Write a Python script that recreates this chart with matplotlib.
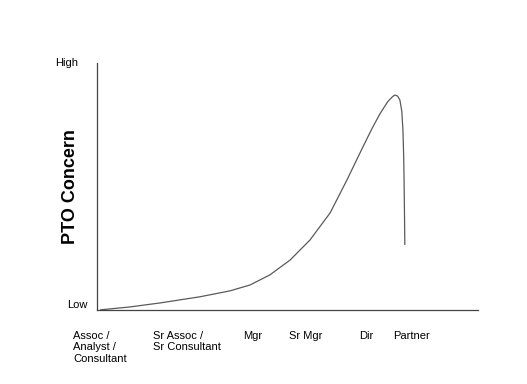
import matplotlib.pyplot as plt
import matplotlib.transforms as mtransforms

plt.rcParams['font.family'] = ['Liberation Sans', 'DejaVu Sans']

# curve (x: career stage axis 0-100, y: concern 0-100)
curve_x = [0.8, 8.7, 16.5, 27.0, 34.9, 40.2, 45.4, 50.7, 55.9, 61.2, 65.6, 69.8,
           72.2, 74.3, 76.3, 77.6, 78.2, 78.9, 79.5, 80.0, 80.3, 80.5, 80.6, 80.7, 80.8]
curve_y = [0.0, 1.2, 2.8, 5.3, 7.7, 10.1, 14.2, 20.2, 28.3, 39.3, 52.6, 66.0,
           73.5, 79.5, 84.3, 86.4, 87.0, 86.6, 85.0, 80.5, 72.9, 62.0, 52.6, 40.0, 26.3]

stages = ['Assoc /\nAnalyst /\nConsultant', 'Sr Assoc /\nSr Consultant',
          'Mgr', 'Sr Mgr', 'Dir', 'Partner']
stage_x = [-6.3, 14.7, 38.3, 50.4, 68.8, 77.7]

fig = plt.figure(figsize=(5.27, 3.84), dpi=100)
ax = fig.add_axes([0.184, 0.193, 0.723, 0.643])

ax.plot(curve_x, curve_y, color='#5a5a5a', lw=0.9, solid_capstyle='butt')

ax.set_xlim(0, 100)
ax.set_ylim(0, 100)
for side in ['top', 'right']:
    ax.spines[side].set_visible(False)
for side in ['left', 'bottom']:
    ax.spines[side].set_color('#444444')
    ax.spines[side].set_linewidth(0.9)
ax.set_xticks([])
ax.set_yticks([])

trans = mtransforms.blended_transform_factory(ax.transData, ax.transAxes)
for label, x in zip(stages, stage_x):
    ax.text(x, -0.085, label, transform=trans, ha='left', va='top',
            fontsize=8, linespacing=1.2, clip_on=False)

ax.text(-0.05, 1.0, 'High', transform=ax.transAxes, ha='right', va='center',
        fontsize=8)
ax.text(-0.024, 0.02, 'Low', transform=ax.transAxes, ha='right', va='center',
        fontsize=8)

ax.set_ylabel('PTO Concern', fontsize=13, fontweight='bold', labelpad=13)

fig.savefig('out.png', dpi=100)
